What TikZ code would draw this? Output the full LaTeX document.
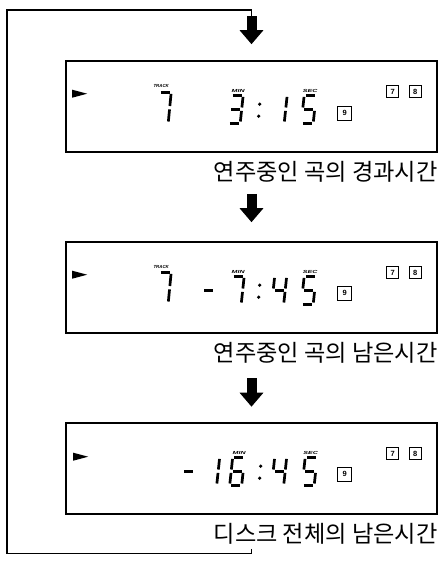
\documentclass[tikz,border=0pt]{standalone}
\usepackage{fontspec}
\setsansfont{Liberation Sans}
\newfontfamily\krfont{Noto Sans CJK KR}
\usetikzlibrary{arrows.meta,positioning}

% one slanted seven-segment digit: #1 = top left of the cell, #2 = height, #3 = segment list
\newcommand{\lcddigit}[3]{%
  \begin{scope}[shift={#1}]
    \coordinate (p1) at (3,0);          \coordinate (p2) at (15,0);
    \coordinate (p3) at (1.5,{#2/2});   \coordinate (p4) at (13.5,{#2/2});
    \coordinate (p5) at (0,#2);         \coordinate (p6) at (12,#2);
    \foreach \a/\b in {#3} \draw[segment] (\a) -- (\b);
  \end{scope}}
\newcommand{\lcdcolon}[1]{%
  \begin{scope}[shift={#1}]
    \fill (1,9) circle (1.8) (0,21) circle (1.8);
  \end{scope}}

\begin{document}
\begin{tikzpicture}[x=1pt, y=-1pt, node distance=181pt, on grid,
    display/.style={draw, line width=1.6pt, minimum width=371pt, minimum height=91pt, inner sep=0pt},
    caption/.style={font=\krfont\fontsize{23.2}{25}\selectfont, inner sep=0pt, anchor=base east},
    segment/.style={line width=2.7pt, shorten <=1.7pt, shorten >=1.7pt},
    lcdlabel/.style={font=\sffamily\bfseries\itshape\fontsize{4.4}{4.4}\selectfont, inner sep=0pt},
    keybox/.style={draw, line width=1pt, minimum size=12pt, inner sep=0pt,
      font=\sffamily\bfseries\fontsize{7.5}{7.5}\selectfont},
    playmark/.style={fill=black},
    blockarrow/.style={line width=10pt, -{Triangle[width=23pt, length=14pt]}},
    loopline/.style={line width=1.2pt}]
  \useasboundingbox (0,0) rectangle (443,563);

  \node[display] (box1) at (251.5,106.5) {};
  \node[display, below=of box1] (box2) {};
  \node[display, below=of box2] (box3) {};

  \node[caption] (cap1) at ([yshift=-27.5pt]box1.south east) {연주중인 곡의 경과시간};
  \node[caption] (cap2) at ([yshift=-27.5pt]box2.south east) {연주중인 곡의 남은시간};
  \node[caption] (cap3) at ([yshift=-27.5pt]box3.south east) {디스크 전체의 남은시간};

  % elapsed time of the track
  \begin{scope}[shift={(box1.north west)}]
    \fill[playmark] (7,29.5) -- (22,33.5) -- (7,37.5) -- cycle;
    \node[lcdlabel] (trk1) at (96,25.5) {TRACK};
    \lcddigit{(91,32)}{31}{p1/p2,p2/p4,p4/p6}
    \node[lcdlabel, xscale=1.6] (min1) at (173,31) {MIN};
    \lcddigit{(163,35)}{28}{p1/p2,p2/p4,p4/p6,p5/p6,p3/p4}
    \lcdcolon{(193.5,35)}
    \lcddigit{(207,35)}{28}{p2/p4,p4/p6}
    \node[lcdlabel, xscale=1.6] (sec1) at (245,31) {SEC};
    \lcddigit{(236,35)}{28}{p1/p2,p1/p3,p3/p4,p4/p6,p5/p6}
    \node[keybox, minimum size=14pt] (nine1) at (279.5,53) {9};
    \node[keybox] (seven1) at (327.5,31.5) {7};
    \node[keybox] (eight1) at (350,31.5) {8};
  \end{scope}

  % remaining time of the track
  \begin{scope}[shift={(box2.north west)}]
    \fill[playmark] (7,29.5) -- (22,33.5) -- (7,37.5) -- cycle;
    \node[lcdlabel] (trk2) at (96,25.5) {TRACK};
    \lcddigit{(91,31)}{31}{p1/p2,p2/p4,p4/p6}
    \lcddigit{(136,35)}{28}{p3/p4}
    \node[lcdlabel, xscale=1.6] (min2) at (173,31) {MIN};
    \lcddigit{(164,35)}{28}{p1/p2,p2/p4,p4/p6}
    \lcdcolon{(193.5,35)}
    \lcddigit{(206.5,35)}{28}{p1/p3,p3/p4,p2/p4,p4/p6}
    \node[lcdlabel, xscale=1.6] (sec2) at (245,31) {SEC};
    \lcddigit{(236,35)}{28}{p1/p2,p1/p3,p3/p4,p4/p6,p5/p6}
    \node[keybox, minimum size=14pt] (nine2) at (279.5,52) {9};
    \node[keybox] (seven2) at (327.5,31.5) {7};
    \node[keybox] (eight2) at (350,31.5) {8};
  \end{scope}

  % remaining time of the disc
  \begin{scope}[shift={(box3.north west)}]
    \fill[playmark] (8,30.5) -- (23,34.5) -- (8,38.5) -- cycle;
    \lcddigit{(116,35)}{28}{p3/p4}
    \lcddigit{(139.5,35)}{28}{p2/p4,p4/p6}
    \node[lcdlabel, xscale=1.6] (min3) at (174,31) {MIN};
    \lcddigit{(164.5,35)}{28}{p1/p2,p1/p3,p3/p4,p3/p5,p5/p6,p4/p6}
    \lcdcolon{(194.5,35)}
    \lcddigit{(206.5,35)}{28}{p1/p3,p3/p4,p2/p4,p4/p6}
    \node[lcdlabel, xscale=1.6] (sec3) at (245.5,31) {SEC};
    \lcddigit{(237,35)}{28}{p1/p2,p1/p3,p3/p4,p4/p6,p5/p6}
    \node[keybox, minimum size=14pt] (nine3) at (279.5,52) {9};
    \node[keybox] (seven3) at (327.5,31.5) {7};
    \node[keybox] (eight3) at (350,31.5) {8};
  \end{scope}

  % the loop back to the top
  \coordinate (loopend) at ([yshift=-34pt]box3.south);
  \coordinate (loopcorner) at (7,10);
  \draw[loopline] (loopend) -- ++(0,5) -| (loopcorner) -| ([yshift=44pt]box1.north);

  \draw[blockarrow] ([yshift=44pt]box1.north) -- ([yshift=16pt]box1.north);
  \draw[blockarrow] ([yshift=-41pt]box1.south) -- ([yshift=19pt]box2.north);
  \draw[blockarrow] ([yshift=-44.5pt]box2.south) -- ([yshift=15.5pt]box3.north);
\end{tikzpicture}
\end{document}
